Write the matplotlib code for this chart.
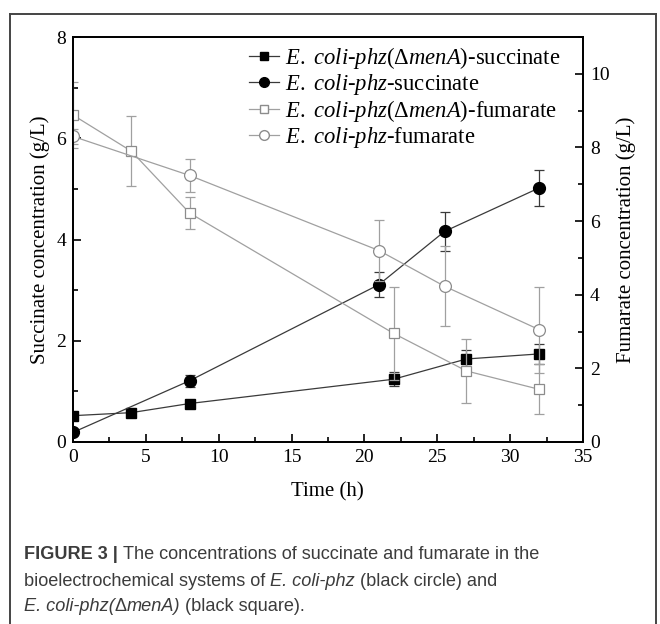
import matplotlib
matplotlib.use("Agg")
import matplotlib.pyplot as plt
from matplotlib.lines import Line2D
from matplotlib.ticker import MultipleLocator

plt.rcParams['font.family'] = ['Liberation Serif', 'DejaVu Serif']
plt.rcParams['mathtext.fontset'] = 'custom'
plt.rcParams['mathtext.rm'] = 'Liberation Serif'
plt.rcParams['mathtext.it'] = 'Liberation Serif:italic'

# ---------------- data ----------------
time_menA_succ = [0, 4, 8, 22, 27, 32]
succ_menA = [0.52, 0.58, 0.76, 1.24, 1.64, 1.74]
succ_menA_err = [0, 0, 0, 0.14, 0.18, 0.20]

time_phz_succ = [0, 8, 21, 25.5, 32]
succ_phz = [0.19, 1.21, 3.11, 4.16, 5.02]
succ_phz_err = [0, 0.12, 0.24, 0.39, 0.36]

time_menA_fum = [0, 4, 8, 22, 27, 32]
fum_menA = [8.88, 7.90, 6.22, 2.95, 1.93, 1.43]
fum_menA_err = [0.9, 0.96, 0.43, 1.27, 0.86, 0.68]

time_phz_fum = [0, 8, 21, 25.5, 32]
fum_phz = [8.30, 7.24, 5.20, 4.23, 3.05]
fum_phz_err = [0.2, 0.46, 0.83, 1.08, 1.17]

labels = [r"$\mathit{E.\ coli}$-$\mathit{phz(Δ menA)}$-succinate",
          r"$\mathit{E.\ coli}$-$\mathit{phz}$-succinate",
          r"$\mathit{E.\ coli}$-$\mathit{phz(Δ menA)}$-fumarate",
          r"$\mathit{E.\ coli}$-$\mathit{phz}$-fumarate"]

W, H = 660, 624
fig = plt.figure(figsize=(W / 100, H / 100), dpi=100)
fig.patch.set_facecolor('white')

def fx(px):
    return px / W

def fy(py):
    return 1 - py / H

L, R, T, B = 73, 583, 37, 442
ax = fig.add_axes([fx(L), fy(B), (R - L) / W, (B - T) / H])
ax2 = ax.twinx()

dark = '#3a3a3a'
gray = '#a0a0a0'

# fumarate (right axis)
ax2.errorbar(time_menA_fum, fum_menA, yerr=fum_menA_err, color=gray, lw=0.9,
             marker='s', ms=7.5, mfc='white', mec='#8c8c8c', mew=0.9,
             ecolor=gray, elinewidth=0.9, capsize=3.8, capthick=0.9, zorder=2)
ax2.errorbar(time_phz_fum, fum_phz, yerr=fum_phz_err, color=gray, lw=0.9,
             marker='o', ms=8.5, mfc='white', mec='#8c8c8c', mew=0.9,
             ecolor=gray, elinewidth=0.9, capsize=3.8, capthick=0.9, zorder=2)
# succinate (left axis)
ax.errorbar(time_menA_succ, succ_menA, yerr=succ_menA_err, color=dark, lw=0.9,
            marker='s', ms=7.5, mfc='black', mec='black',
            ecolor=dark, elinewidth=0.9, capsize=3.8, capthick=0.9)
ax.errorbar(time_phz_succ, succ_phz, yerr=succ_phz_err, color=dark, lw=0.9,
            marker='o', ms=8.5, mfc='black', mec='black',
            ecolor=dark, elinewidth=0.9, capsize=3.8, capthick=0.9)

ax.set_xlim(0, 35)
ax.set_ylim(0, 8)
ax2.set_ylim(0, 11)
ax.xaxis.set_major_locator(MultipleLocator(5))
ax.xaxis.set_minor_locator(MultipleLocator(2.5))
ax.yaxis.set_major_locator(MultipleLocator(2))
ax.yaxis.set_minor_locator(MultipleLocator(1))
ax2.yaxis.set_major_locator(MultipleLocator(2))
ax2.yaxis.set_minor_locator(MultipleLocator(1))

for a in (ax, ax2):
    for s in a.spines.values():
        s.set_linewidth(1.3)
        s.set_color('black')
ax.tick_params(axis='both', which='both', direction='in', labelsize=14, width=1.2,
               top=False, right=False, pad=5, colors='black')
ax.tick_params(which='major', length=6)
ax.tick_params(which='minor', length=3.5)
ax2.tick_params(axis='y', which='both', direction='in', labelsize=14, width=1.2, pad=5)
ax2.tick_params(which='major', length=6)
ax2.tick_params(which='minor', length=3.5)

# legend
handles = [
    Line2D([], [], color=dark, lw=0.9, marker='s', ms=6, mfc='black', mec='black'),
    Line2D([], [], color=dark, lw=0.9, marker='o', ms=7, mfc='black', mec='black'),
    Line2D([], [], color=gray, lw=0.9, marker='s', ms=6, mfc='white', mec='#8c8c8c'),
    Line2D([], [], color=gray, lw=0.9, marker='o', ms=7, mfc='white', mec='#8c8c8c'),
]
leg = ax2.legend(handles, labels, loc='upper left', bbox_to_anchor=(0.314, 1.02),
                 frameon=False, fontsize=16.3, handlelength=1.33, handletextpad=0.25,
                 labelspacing=0.05, borderaxespad=0.3)

# axis labels
fig.text(fx(40), fy(240), 'Succinate concentration (g/L)', rotation=90,
         ha='center', va='center', fontsize=15)
fig.text(fx(626), fy(240), 'Fumarate concentration (g/L)', rotation=90,
         ha='center', va='center', fontsize=15)
fig.text(fx(327), fy(492), 'Time (h)', ha='center', va='center', fontsize=15)

# border
bc = '#444444'
fig.add_artist(Line2D([fx(10), fx(10)], [fy(14), 0], color=bc, lw=1.4))
fig.add_artist(Line2D([fx(10), fx(656)], [fy(14), fy(14)], color=bc, lw=1.4))
fig.add_artist(Line2D([fx(656), fx(656)], [fy(14), 0], color=bc, lw=1.4))

# caption
cap_color = '#3c3c3c'
cap_family = ['Liberation Sans']
cap_size = 13.1
renderer = fig.canvas.get_renderer()

def rich_line(x_px, base_px, parts):
    x = x_px
    for txt, weight, style in parts:
        t = fig.text(fx(x), fy(base_px), txt, fontsize=cap_size, family=cap_family,
                     weight=weight, style=style, color=cap_color,
                     ha='left', va='baseline')
        bb = t.get_window_extent(renderer)
        x += bb.width

rich_line(24, 559, [("FIGURE 3 | ", 'bold', 'normal'),
                    ("The concentrations of succinate and fumarate in the", 'normal', 'normal')])
rich_line(24, 586, [("bioelectrochemical systems of ", 'normal', 'normal'),
                    ("E. coli-phz", 'normal', 'italic'),
                    (" (black circle) and", 'normal', 'normal')])
rich_line(24, 611, [("E. coli-phz(", 'normal', 'italic'),
                    ("Δ", 'normal', 'normal'),
                    ("menA)", 'normal', 'italic'),
                    (" (black square).", 'normal', 'normal')])

fig.savefig('out.png', dpi=100)
